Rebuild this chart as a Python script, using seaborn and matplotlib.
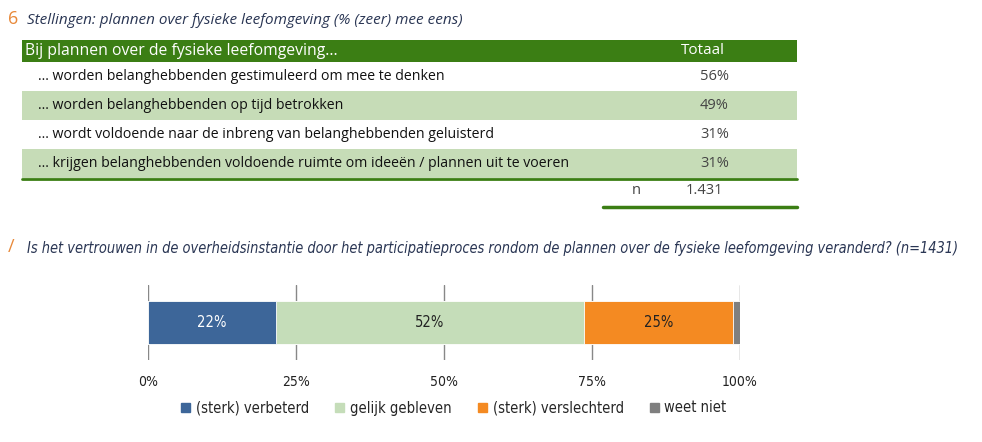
import matplotlib
matplotlib.use("Agg")
import matplotlib.pyplot as plt
import matplotlib.patches as mpatches
import pandas as pd
import seaborn as sns

# table data
statements = [
    "... worden belanghebbenden gestimuleerd om mee te denken",
    "... worden belanghebbenden op tijd betrokken",
    "... wordt voldoende naar de inbreng van belanghebbenden geluisterd",
    "... krijgen belanghebbenden voldoende ruimte om ideeën / plannen uit te voeren",
]
totaal = [56, 49, 31, 31]
n_total = "1.431"

# stacked bar data
categories = ["(sterk) verbeterd", "gelijk gebleven", "(sterk) verslechterd", "weet niet"]
shares = [21.6, 52.1, 25.1, 1.2]
colors = ["#3d6699", "#c5ddb9", "#f48a22", "#7f7f7f"]
label_colors = ["white", "#222222", "#222222", None]

sns.set_theme(style="white")
plt.rcParams["font.family"] = ["Open Sans", "DejaVu Sans"]

narrow = dict(family=["DejaVu Sans"], stretch="condensed")

fig = plt.figure(figsize=(9.82, 4.42), dpi=100)
bg = fig.add_axes([0, 0, 1, 1])
bg.set_xlim(0, 982)
bg.set_ylim(442, 0)
bg.axis("off")

dark_green = "#3b7e14"
light_green = "#c6dcb7"
navy = "#2a3654"
orange = "#e8893a"

# --- section 6: table ---
bg.text(8, 19, "6", color=orange, fontsize=13, va="center", ha="left")
bg.text(27, 20, "Stellingen: plannen over fysieke leefomgeving (% (zeer) mee eens)",
        color=navy, fontsize=11, style="italic", va="center")

bg.add_patch(mpatches.Rectangle((22, 40), 775, 22, color=dark_green, lw=0))
bg.text(25, 51, "Bij plannen over de fysieke leefomgeving...", color="white",
        fontsize=11.3, va="center")
bg.text(703, 51, "Totaal", color="white", fontsize=11, va="center", ha="center")

row_h = 29
y0 = 62
for i, (s, v) in enumerate(zip(statements, totaal)):
    y = y0 + i * row_h
    if i % 2 == 1:
        bg.add_patch(mpatches.Rectangle((22, y), 775, row_h, color=light_green, lw=0))
    bg.text(38, y + row_h / 2, s, color="#111111", fontsize=10.2, va="center")
    bg.text(729, y + row_h / 2, f"{v}%", color="#444444", fontsize=10.5, va="center", ha="right")
y_end = y0 + len(statements) * row_h
bg.plot([22, 797], [y_end + 1, y_end + 1], color=dark_green, lw=2)
bg.text(636, y_end + 12, "n", color="#444444", fontsize=10.5, va="center", ha="center")
bg.text(723, y_end + 12, n_total, color="#444444", fontsize=10.5, va="center", ha="right")
bg.plot([603, 797], [y_end + 29, y_end + 29], color=dark_green, lw=2.5)

# --- section 7: stacked bar ---
bg.text(8, 247, "/", color=orange, fontsize=13, va="center", ha="left")
bg.text(27, 248, "Is het vertrouwen in de overheidsinstantie door het participatieproces rondom "
        "de plannen over de fysieke leefomgeving veranderd? (n=1431)",
        color=navy, fontsize=10.45, style="italic", va="center", **narrow)

ax = fig.add_axes([148 / 982, 1 - 360 / 442, 592 / 982, 75 / 442])
cum = pd.Series(shares).cumsum()
df = pd.DataFrame({"cat": categories, "share": shares, "cum": cum, "row": [""] * 4})
# draw cumulative bars from largest to smallest so they stack
for i in reversed(range(len(df))):
    sns.barplot(data=df.iloc[[i]], x="cum", y="row", color=colors[i], orient="h",
                width=0.57, ax=ax, saturation=1, edgecolor="white", linewidth=0.6)
for i, row in df.iterrows():
    if label_colors[i] is None:
        continue
    mid = row["cum"] - row["share"] / 2
    ax.text(mid, 0, f"{row['share']:.0f}%", ha="center", va="center",
            color=label_colors[i], fontsize=10.5, **narrow)

ax.set_xlim(0, 100)
ax.set_ylim(0.5, -0.5)
ax.set_xticks([0, 25, 50, 75, 100])
ax.set_xticklabels(["0%", "25%", "50%", "75%", "100%"], fontsize=10, **narrow)
ax.tick_params(axis="x", length=0, pad=11, colors="#222222")
ax.set_yticks([])
ax.set_xlabel("")
ax.set_ylabel("")
for x in [0, 25, 50, 75, 100]:
    ax.axvline(x, color="#888888", lw=1, zorder=0)
for sp in ax.spines.values():
    sp.set_visible(False)
ax.set_facecolor("none")

handles = [mpatches.Patch(color=c, label=l) for c, l in zip(colors, categories)]
leg = fig.legend(handles=handles, loc="center", bbox_to_anchor=(454 / 982, 1 - 408 / 442),
                 ncol=4, frameon=False, handlelength=0.6, handleheight=0.6,
                 handletextpad=0.4, columnspacing=1.8,
                 prop={"family": ["DejaVu Sans"], "stretch": "condensed", "size": 10.5})

fig.savefig("out.png", dpi=100, facecolor="white")
